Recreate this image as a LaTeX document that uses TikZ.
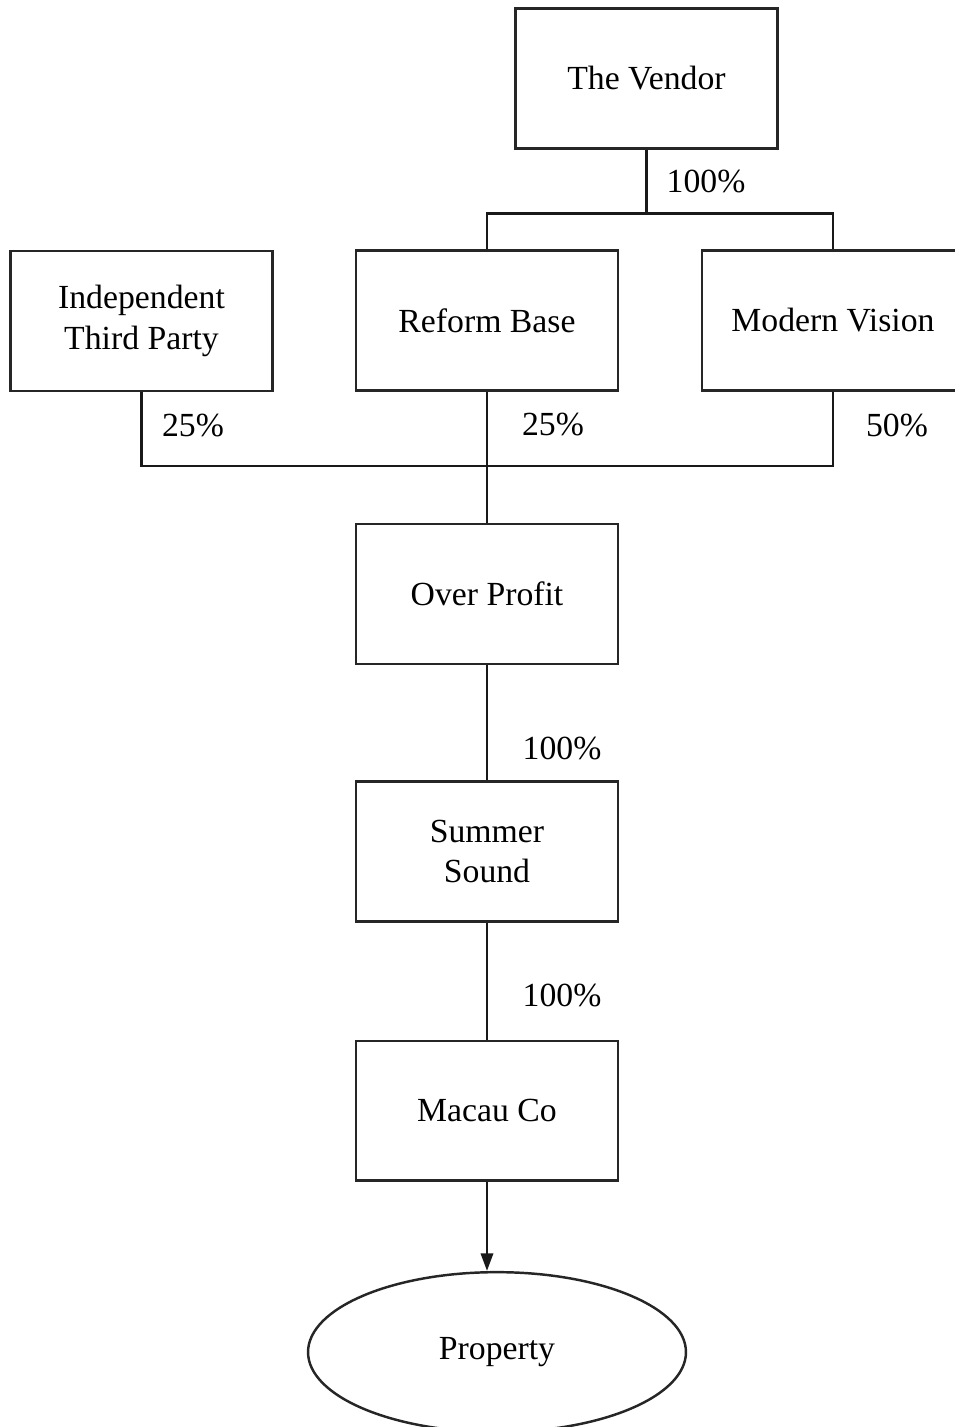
\documentclass[tikz,border=0pt]{standalone}
\usepackage{fontspec}
\setmainfont{Liberation Serif}
\usetikzlibrary{trees,positioning,arrows.meta,shapes.geometric}

\tikzset{
  box/.style={draw=black!85, line width=1.4pt, minimum width=5.24cm, minimum height=2.8cm, align=center, inner sep=0pt},
  oval/.style={draw=black!85, line width=1.4pt, ellipse, minimum width=7.56cm, minimum height=3.2cm},
  pct/.style={inner sep=0pt},
  link/.style={draw=black!90, line width=1.4pt}
}

\begin{document}
\begin{tikzpicture}[x=0.02cm, y=-0.02cm, font=\fontsize{19.2pt}{23pt}\selectfont,
  grow via three points={one child at (0,242) and two children at (-159.5,242) and (186.5,242)},
  edge from parent/.style={link},
  edge from parent path={(\tikzparentnode.south) -- ++(0,64) -| (\tikzchildnode.north)}]
\useasboundingbox (0,0) rectangle (954,1427);
\node[box] (vendor) at (646.5,78.5) {The Vendor}
    child { node[box] (reform) {Reform Base} 
        }
    child { node[box] (vision) {Modern Vision} 
        };
\node[box] (third) at (141.5,321) {Independent\\Third Party};
\node[box, below=2.62cm of reform] (profit) {Over Profit};
\node[box, below=2.30cm of profit] (summer) {Summer\\Sound};
\node[box, below=2.34cm of summer] (macau) {Macau Co};
\node[oval, below=1.78cm of macau, xshift=0.2cm] (property) {Property};
\coordinate (join) at (486.5,466);
% percentages
\node[pct] (pVendor) at (706,182) {100\%};
\node[pct] (pThird) at (193,425) {25\%};
\node[pct] (pReform) at (553,424) {25\%};
\node[pct] (pVision) at (897,425) {50\%};
\node[pct] (pProfit) at (562,748) {100\%};
\node[pct] (pSummer) at (562,995) {100\%};
% holdings
\draw[link] (third.south) |- (join) -| (vision.south);
\draw[link] (reform.south) -- (profit.north);
\draw[link] (profit.south) -- (summer.north);
\draw[link] (summer.south) -- (macau.north);
\draw[link, -{Triangle[width=7pt, length=10pt]}] (macau.south) -- (macau.south |- property.north);
\end{tikzpicture}
\end{document}
